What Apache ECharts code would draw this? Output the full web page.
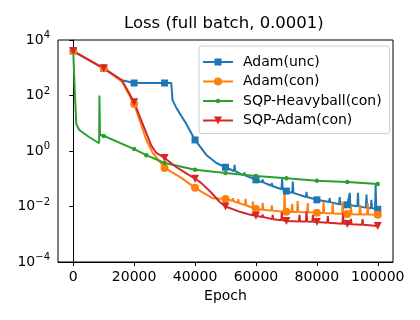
<!DOCTYPE html>
<html>
<head>
<meta charset="utf-8">
<script src="https://cdn.jsdelivr.net/npm/echarts@6/dist/echarts.min.js"></script>
<style>
  html, body { margin: 0; padding: 0; background: #fff; }
</style>
</head>
<body>
<div id="main" style="width: 420px;height:320px;"></div>
<script>
// epochs where the markers sit (matplotlib markevery)
var markerEpochs = [0, 10000, 20000, 30000, 40000, 50000, 60000, 70000, 80000, 90000, 100000];
var greenMarkerEpochs = [0, 10000, 20000, 24000, 30000, 40000, 50000, 60000, 70000, 80000, 90000, 100000];
var xTicks = [0, 20000, 40000, 60000, 80000, 100000];
var yTicks = [1e-4, 1e-2, 1, 1e2, 1e4];

// Adam(unc)
var uncEpoch = [0, 10000, 16000, 20000, 30000, 32200, 32600, 33900, 37000, 40000, 43700, 47000, 50000,
  52800, 53000, 53200, 55000, 56000, 56200, 56400, 60000, 62000, 62200, 62400, 65000, 65200, 65400,
  68400, 68600, 68800, 70000, 71900, 72100, 72300, 76400, 76600, 76800, 80000, 84000, 84200, 84400,
  87300, 87500, 87700, 90000, 90600, 90800, 91000, 93300, 93500, 93700, 96100, 96300, 96500,
  97700, 97900, 98100, 99100, 99300, 99500, 100000];
var uncLoss = [4000, 955, 355, 282, 282, 282, 68, 35, 10, 2.5, 0.72, 0.37, 0.26,
  0.19, 0.32, 0.19, 0.15, 0.135, 0.17, 0.134, 0.091, 0.075, 0.095, 0.074, 0.056, 0.07, 0.055,
  0.042, 0.105, 0.041, 0.036, 0.031, 0.079, 0.031, 0.022, 0.034, 0.022, 0.0174, 0.0145, 0.02, 0.0144,
  0.012, 0.022, 0.012, 0.0115, 0.0112, 0.031, 0.0111, 0.0102, 0.031, 0.0101, 0.0091, 0.027, 0.0091,
  0.0087, 0.0174, 0.0087, 0.0083, 0.063, 0.0083, 0.0079];

// Adam(con)
var conEpoch = [0, 10000, 16000, 20000, 24000, 26000, 30000, 35500, 40000, 45700, 50000,
  52200, 52400, 52600, 54000, 54200, 54400, 56400, 56600, 56800, 58800, 59000, 59200, 60000,
  62000, 62200, 62400, 65000, 65200, 65400, 69200, 69400, 69600, 70000, 71700, 71900, 72100,
  73500, 73700, 73900, 76800, 77000, 77200, 80000, 82000, 82200, 82400, 85000, 85200, 85400,
  88300, 88500, 88700, 90000, 91000, 91200, 91400, 94000, 94200, 94400, 96500, 96700, 96900, 100000];
var conLoss = [4000, 955, 316, 49, 2.5, 0.9, 0.245, 0.107, 0.047, 0.02, 0.0186,
  0.016, 0.02, 0.0158, 0.0135, 0.0185, 0.0134, 0.0112, 0.019, 0.0111, 0.0089, 0.015, 0.0088, 0.0081,
  0.0076, 0.0135, 0.0076, 0.0071, 0.011, 0.0071, 0.0065, 0.032, 0.0065, 0.0065, 0.0063, 0.0126, 0.0063,
  0.0063, 0.0158, 0.0063, 0.0062, 0.0132, 0.0062, 0.0059, 0.0058, 0.0148, 0.0058, 0.0056, 0.0126, 0.0056,
  0.0055, 0.0151, 0.0055, 0.0054, 0.0053, 0.01, 0.0053, 0.0052, 0.0115, 0.0052, 0.0051, 0.0132, 0.0051, 0.005];

// SQP-Heavyball(con)
var hbEpoch = [0, 300, 400, 900, 1000, 1400, 2000, 5200, 8500, 8600, 8800, 9600, 10000, 20000, 24000,
  30000, 40000, 50000, 60000, 70000, 80000, 90000, 100000];
var hbLoss = [4000, 3500, 280, 250, 9.3, 10, 5.7, 3.2, 1.9, 100, 3.8, 3.7, 3.5, 1.17, 0.71,
  0.37, 0.21, 0.16, 0.126, 0.105, 0.085, 0.076, 0.065];

// SQP-Adam(con)
var sqpEpoch = [0, 10000, 16000, 20000, 25600, 27300, 30000, 33900, 37000, 40000, 42000, 45300, 48000, 50000,
  55000, 58800, 59000, 59200, 60000, 62000, 62200, 62400, 65300, 65500, 65700, 68300, 68500, 68700, 70000,
  74100, 74300, 74500, 76400, 76600, 76800, 78500, 78700, 78900, 80000, 83400, 83600, 83800,
  88400, 88600, 88800, 90000, 91000, 91200, 91400, 94800, 95000, 95200, 100000];
var sqpLoss = [4000, 955, 355, 57, 1.6, 0.85, 0.56, 0.26, 0.16, 0.1, 0.071, 0.032, 0.0148, 0.01,
  0.0063, 0.0048, 0.0058, 0.0048, 0.0046, 0.0042, 0.0052, 0.0042, 0.0035, 0.005, 0.0035, 0.0032, 0.0063, 0.0032, 0.003,
  0.0029, 0.005, 0.0029, 0.0029, 0.0066, 0.0029, 0.0028, 0.005, 0.0028, 0.00275, 0.0026, 0.0045, 0.0026,
  0.0024, 0.0058, 0.0024, 0.00234, 0.0023, 0.0036, 0.0023, 0.0022, 0.0035, 0.0022, 0.002];

var seriesNames = ['Adam(unc)', 'Adam(con)', 'SQP-Heavyball(con)', 'SQP-Adam(con)'];
var seriesColors = ['#1f77b4', '#ff7f0e', '#2ca02c', '#d62728'];

// legend icons: line + marker, drawn in a 30x14 box (corner points keep the box size)
var box = 'M0,0 L0,0 M30,14 L30,14 ';
var lineBar = 'M0,6 L30,6 L30,8 L0,8 Z ';
var legendIcons = [
  'path://' + box + lineBar + 'M11.5,3.5 L18.5,3.5 L18.5,10.5 L11.5,10.5 Z',
  'path://' + box + lineBar + 'M11,7 A4,4 0 0,1 19,7 A4,4 0 0,1 11,7 Z',
  'path://' + box + lineBar + 'M12.8,7 A2.2,2.2 0 0,1 17.2,7 A2.2,2.2 0 0,1 12.8,7 Z',
  'path://' + box + lineBar + 'M11,3 L19,3 L15,11 Z'
];

function buildData(epochs, losses, marks) {
  return epochs.map(function (e, i) {
    if (marks.indexOf(e) >= 0) return [e, losses[i]];
    return { value: [e, losses[i]], symbol: 'none' };
  });
}

function supLabel(v) {
  var p = Math.round(Math.log10(v));
  var s = p < 0 ? '\u2212' + (-p) : '' + p;
  return '{b|10}{s|' + s + '}';
}

var font = 'DejaVu Sans';
var chart = echarts.init(document.getElementById('main'), null, { renderer: 'canvas' });
chart.setOption({
  animation: false,
  backgroundColor: '#fff',
  title: {
    text: 'Loss (full batch, 0.0001)',
    left: 124,
    top: 15,
    padding: 0,
    textStyle: { fontFamily: font, fontSize: 16.5, fontWeight: 'normal', color: '#000' }
  },
  legend: {
    orient: 'vertical',
    left: 199,
    top: 46,
    padding: [9, 8, 6, 4],
    itemWidth: 30,
    itemHeight: 14,
    itemGap: 5.5,
    backgroundColor: 'rgba(255,255,255,0.8)',
    borderColor: '#cccccc',
    borderWidth: 1,
    borderRadius: 3,
    itemStyle: { borderWidth: 0 },
    textStyle: { fontFamily: font, fontSize: 14, color: '#000', padding: [0, 0, 0, 5] },
    data: seriesNames.map(function (n, i) { return { name: n, icon: legendIcons[i] }; })
  },
  grid: { left: 58, right: 27, top: 40, bottom: 58, show: true, borderColor: '#000', borderWidth: 1 },
  xAxis: {
    type: 'value',
    min: -5000,
    max: 105000,
    name: 'Epoch',
    nameLocation: 'middle',
    nameGap: 27,
    nameTextStyle: { fontFamily: font, fontSize: 14, color: '#000' },
    axisLine: { lineStyle: { color: '#000', width: 1 } },
    axisTick: { length: 4, lineStyle: { color: '#000' }, customValues: xTicks },
    axisLabel: {
      fontFamily: font, fontSize: 14, color: '#000', margin: 8, customValues: xTicks,
      formatter: function (v) { return String(v); }
    },
    splitLine: { show: false }
  },
  yAxis: {
    type: 'log',
    logBase: 10,
    min: 1e-4,
    max: 1e4,
    axisLine: { lineStyle: { color: '#000', width: 1 } },
    axisTick: { length: 4, lineStyle: { color: '#000' }, customValues: yTicks },
    axisLabel: {
      margin: 8,
      customValues: yTicks,
      formatter: supLabel,
      rich: {
        b: { fontFamily: font, fontSize: 14, color: '#000' },
        s: { fontFamily: font, fontSize: 10, color: '#000', padding: [0, 0, 9, 0] }
      }
    },
    splitLine: { show: false }
  },
  series: [
    {
      name: seriesNames[0], type: 'line', color: seriesColors[0],
      symbol: 'rect', symbolSize: 7, showAllSymbol: true,
      lineStyle: { width: 2 },
      data: buildData(uncEpoch, uncLoss, markerEpochs)
    },
    {
      name: seriesNames[1], type: 'line', color: seriesColors[1],
      symbol: 'circle', symbolSize: 8, showAllSymbol: true,
      lineStyle: { width: 2 },
      data: buildData(conEpoch, conLoss, markerEpochs)
    },
    {
      name: seriesNames[2], type: 'line', color: seriesColors[2],
      symbol: 'circle', symbolSize: 4.5, showAllSymbol: true,
      lineStyle: { width: 2 },
      data: buildData(hbEpoch, hbLoss, greenMarkerEpochs)
    },
    {
      name: seriesNames[3], type: 'line', color: seriesColors[3],
      symbol: 'path://M0,0 L10,0 L5,10 Z', symbolSize: 8, showAllSymbol: true,
      lineStyle: { width: 2 },
      data: buildData(sqpEpoch, sqpLoss, markerEpochs)
    }
  ]
});
</script>
</body>
</html>
